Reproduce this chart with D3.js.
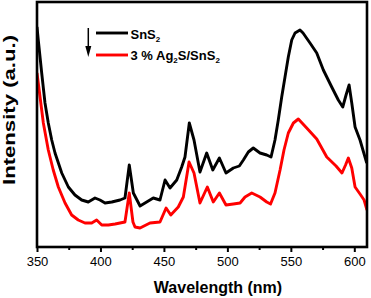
<!DOCTYPE html>
<html lang="en">
<head>
<meta charset="UTF-8" />
<script src="https://d3js.org/d3.v7.min.js"></script>
<title>PL spectra</title>
<style>
  body { margin: 0; background: #fff; }
  text { font-family: Arial, "Liberation Sans", sans-serif; }
</style>
</head>
<body>
<svg id="chart" width="371" height="298"></svg>
<script>
// SnS2 (black)
var snsWave = [350,351,353.7,356.3,358.9,361.6,364.2,369.5,374.7,379.9,385.2,390.4,395.7,399.6,403.6,408.9,415.4,419.3,422.7,425.9,
  431.2,436.4,441.6,446.9,450.9,454.8,460.1,464,466.6,470,473.7,478.4,483.7,488.5,493.7,498.9,504.7,509.4,512.6,516.5,
  520.4,525.7,531,534.4,537.5,540.1,542.8,545.4,548,550.7,553.3,557.2,559.6,565.1,570.4,575.6,582.2,587.4,590.9,593.5,
  595.9,598,600.6,604.5,609.8];
var snsInt = [220,207,174,144,124,107,94,74,60,52,47,45,49,47,44,45,47,49,82,54,
  41,45,49,47,67,59,67,80,90,124,107,75,94,77,89,74,79,81,87,95,
  99,94,92,90,107,127,150,170,190,207,214,217,214,204,194,177,160,147,140,152,
  162,144,120,107,84];

// 3 % Ag2S/SnS2 (red)
var agWave = [350,352.4,355,358.9,362.8,366.8,372.1,377.3,382.5,387.8,393.1,397,401,406.2,411.5,415.4,419.3,422.7,425.6,427.2,
  431.2,439,446.9,451.7,455.4,461.3,465.3,469.8,473.7,478.4,484.2,488.9,493.7,498.9,504.7,510,513.9,519.2,525.7,531,
  534,537.5,541.5,544.6,548,552,555.9,562.5,570.4,578.3,585.6,590.3,593.1,595.3,598,600.6,604.5,607.7,610];
var agInt = [174,150,124,97,77,60,44,32,27,24,24,27,22,22,23,24,25,54,25,20,
  19,24,25,39,32,40,50,85,74,44,60,45,54,42,43,44,50,54,50,45,
  43,54,77,97,114,124,128,119,108,90,81,74,82,89,79,60,53,47,37];

var majorTicks = [350,400,450,500,550,600];
var minorTicks = [375,425,475,525,575];

var svg = d3.select("#chart");
var pl = 37, pr = 367, pt = 2, pb = 247;

var x = d3.scaleLinear().domain([350, 610]).range([pl, pr]);
var y = d3.scaleLinear().domain([0, 245]).range([pb, pt]);

svg.append("clipPath").attr("id", "clip")
  .append("rect").attr("x", pl).attr("y", pt).attr("width", pr - pl).attr("height", pb - pt);

var line = d3.line()
  .x(function(d){ return x(d[0]) })
  .y(function(d){ return y(d[1]) });

var series = [
  { pts: d3.zip(snsWave, snsInt), color: "#000000" },
  { pts: d3.zip(agWave, agInt), color: "#ff0000" }
];

svg.append("g").attr("clip-path", "url(#clip)")
  .selectAll("path")
  .data(series)
  .enter()
  .append("path")
    .attr("d", function(d){ return line(d.pts) })
    .attr("fill", "none")
    .attr("stroke", function(d){ return d.color })
    .attr("stroke-width", 2.9)
    .attr("stroke-linejoin", "round");

// x axis: major + minor ticks
var xAxis = svg.append("g").attr("transform", "translate(0," + pb + ")")
  .call(d3.axisBottom(x).tickValues(majorTicks).tickSize(5).tickPadding(5).tickFormat(d3.format("d")));
xAxis.select(".domain").remove();
xAxis.selectAll("line").attr("stroke-width", 2);
xAxis.selectAll("text").attr("font-size", "13px").attr("fill", "#000")
  .style("font-family", "Arial, 'Liberation Sans', sans-serif");

var xMinor = svg.append("g").attr("transform", "translate(0," + pb + ")")
  .call(d3.axisBottom(x).tickValues(minorTicks).tickSize(3).tickFormat(""));
xMinor.select(".domain").remove();
xMinor.selectAll("line").attr("stroke-width", 2);

// frame
svg.append("rect")
  .attr("x", pl).attr("y", pt)
  .attr("width", pr - pl).attr("height", pb - pt)
  .attr("fill", "none").attr("stroke", "#000").attr("stroke-width", 2.6);

// axis titles
svg.append("text")
  .attr("x", (pl + pr) / 2 + 16).attr("y", 293)
  .attr("text-anchor", "middle")
  .attr("font-size", "16px").attr("font-weight", "bold")
  .text("Wavelength (nm)");

svg.append("text")
  .attr("transform", "translate(15,110) rotate(-90)")
  .attr("text-anchor", "middle")
  .attr("font-size", "16px").attr("font-weight", "bold")
  .attr("textLength", 150).attr("lengthAdjust", "spacingAndGlyphs")
  .text("Intensity (a.u.)");

// legend
var legend = svg.append("g");
legend.append("line").attr("x1", 96).attr("x2", 128).attr("y1", 33).attr("y2", 33)
  .attr("stroke", "#000").attr("stroke-width", 2.9);
legend.append("line").attr("x1", 96).attr("x2", 128).attr("y1", 55).attr("y2", 55)
  .attr("stroke", "#ff0000").attr("stroke-width", 2.9);

var t1 = legend.append("text").attr("x", 130.5).attr("y", 38.5)
  .attr("font-size", "13px").attr("font-weight", "bold");
t1.append("tspan").text("SnS");
t1.append("tspan").attr("font-size", "8px").attr("dy", 3).text("2");

var t2 = legend.append("text").attr("x", 130.5).attr("y", 60)
  .attr("font-size", "13px").attr("font-weight", "bold");
t2.append("tspan").text("3 % Ag");
t2.append("tspan").attr("font-size", "8px").attr("dy", 3).text("2");
t2.append("tspan").attr("dy", -3).text("S/SnS");
t2.append("tspan").attr("font-size", "8px").attr("dy", 3).text("2");

// down arrow
legend.append("line").attr("x1", 88.3).attr("x2", 88.3).attr("y1", 28).attr("y2", 50)
  .attr("stroke", "#000").attr("stroke-width", 1.5);
legend.append("path").attr("d", "M85.3,46 L91.3,46 L88.3,57 Z").attr("fill", "#000");
</script>
</body>
</html>
